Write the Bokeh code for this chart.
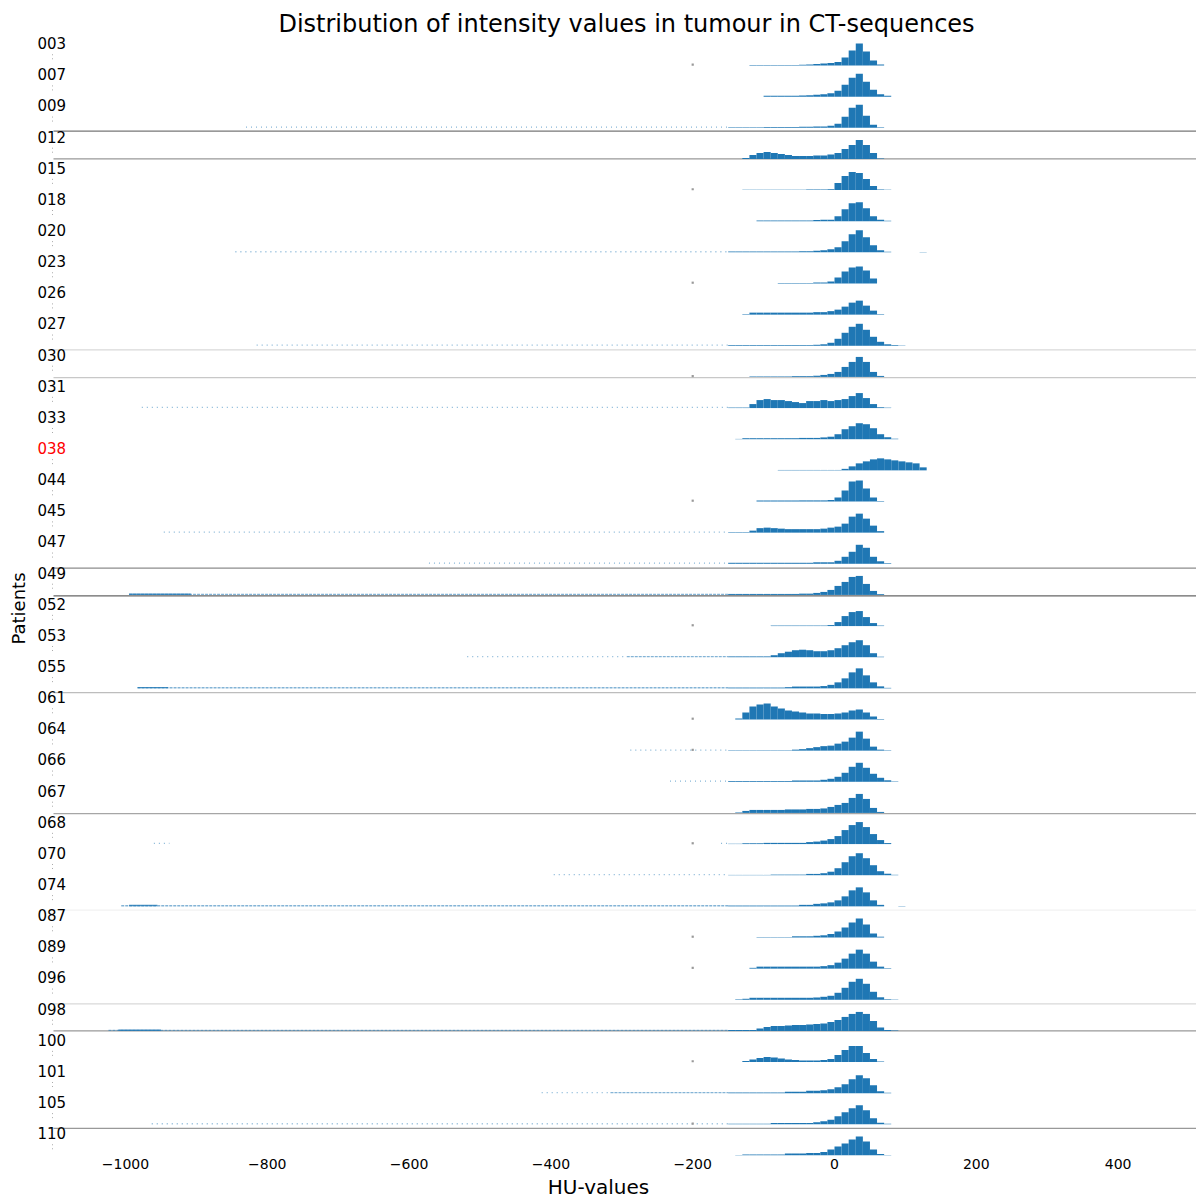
from bokeh.plotting import figure
from bokeh.models import Range1d, FixedTicker, ColumnDataSource
from bokeh.core.properties import value
from bokeh.embed import file_html
from bokeh.resources import INLINE

# ---------------- data ----------------
patients = ["003", "007", "009", "012", "015", "018", "020", "023", "026", "027",
            "030", "031", "033", "038", "044", "045", "047", "049", "052", "053",
            "055", "061", "064", "066", "067", "068", "070", "074", "087", "089",
            "096", "098", "100", "101", "105", "110"]
highlight = ["038"]

# histogram bins: 10 HU wide, left edges -150 ... 120
bin_left = list(range(-150, 130, 10))
bin_width = 10

# bar heights per patient (in reference pixels)
heights = {
    "003": [0,0,0,0.4,0.4,0.4,0.4,0.4,0.4,0.5,0.7,1,1.5,2,2.5,3.5,8,15,22,14,5,1,0,0,0,0,0,0],
    "007": [0,0,0,0,0,0.8,1,1,1,1,1.2,1.5,2,2.5,3.5,6,12,19,23,15,7,2.5,0.8,0,0,0,0,0],
    "009": [0.6,0.6,0.6,0.6,0.6,0.8,0.8,0.8,0.8,0.8,1,1,1.3,1.3,2,4,11,20,23,12,3,0.5,0,0,0,0,0,0],
    "012": [0,0,1,4,6,7,6,5,4,3,3,3,3.5,3.5,4.5,6,10,14,19,14,6,0.5,0,0,0,0,0,0],
    "015": [0,0,0.4,0.4,0.4,0.4,0.4,0.4,0.4,0.4,0.4,0.5,0.5,0.6,0.8,7,14,18,17,11,4,0.5,0.4,0,0,0,0,0],
    "018": [0,0,0,0,0.6,0.6,0.6,0.6,0.6,0.6,0.8,0.8,1.2,1.5,1.5,5,12,18,19,13,5,1.5,0.5,0,0,0,0,0],
    "020": [0.8,0.8,0.8,0.8,0.8,0.8,0.8,0.8,0.8,0.8,1,1,1.5,2,3,5,11,18,22,15,7,2,0.5,0,0,0,0,0.4],
    "023": [0,0,0,0,0,0,0,0.5,0.5,0.5,0.5,0.5,1,1,2,6,12,16,17,13,5,0,0,0,0,0,0,0],
    "026": [0,0,0.5,2,2,2,2,2,2,2,2,2,2.5,2.5,3.5,5,8,12,14,9,4,0.5,0,0,0,0,0,0],
    "027": [0.7,0.7,0.7,0.7,0.7,0.7,0.7,0.7,0.7,0.7,0.7,0.7,1,1.5,3,7,13,19,22,16,9,4,1.5,0.7,0.3,0,0,0],
    "030": [0,0,0,0.5,0.5,0.5,0.5,0.5,0.5,0.8,0.8,0.8,1.2,2,3,5,10,15,20,15,5,1,0,0,0,0,0,0],
    "031": [0.5,0.5,0.5,4,8,9,8,8,7,6,5,7,7,8,7,8,9,12,15,10,4,0.8,0.4,0,0,0,0,0],
    "033": [0,0.3,1,1,1,1,1,1,1,1,1.3,1.3,1.3,1.8,2.5,5,10,13,16,15,11,5,2,0.5,0,0,0,0],
    "038": [0,0,0,0,0,0,0,0.4,0.4,0.4,0.4,0.4,0.4,0.4,0.4,0.4,1.5,4,7,9,11,12,11,10,9,8,7,3],
    "044": [0,0,0,0,1,1,1,1,1,1,1.1,1.1,1.1,1.1,1.5,4,11,20,21,13,4,0.5,0,0,0,0,0,0],
    "045": [0.5,0.5,0.5,2,4.5,5,4.5,4,3.5,3.5,3.5,3.5,3.5,4,5,6,9,16,19,14,7,1.5,0,0,0,0,0,0],
    "047": [1,1,1,1,1,1,1,1,1,1,1,1,1.5,1.5,1.5,3,7,12,19,16,7,2.5,0.6,0,0,0,0,0],
    "049": [1,1,1,1,1,1,1,1,1,1,1.3,1.3,2,3,5,9,13,18,19,11,4,0.8,0,0,0,0,0,0],
    "052": [0,0,0,0,0,0,0.5,0.5,0.5,0.5,0.5,0.5,0.5,0.5,1,4,10,14,15,9,3,0.5,0,0,0,0,0,0],
    "053": [0.8,0.8,0.8,0.8,0.8,0.8,2,4,5.5,7,7.5,7,6,6,7,9,12,15,17,12,4,0.5,0,0,0,0,0,0],
    "055": [0.8,0.8,0.8,0.8,0.8,0.8,0.8,0.8,1.2,1.8,1.8,1.8,1.8,2.3,3.5,6,10,16,20,13,6,2,0.5,0,0,0,0,0],
    "061": [0,1,7,13,15,16,13,11,9,8,7,6,6,5.5,5.5,6,7,9,10,7,3,0.5,0,0,0,0,0,0],
    "064": [0.4,0.4,0.4,0.4,0.4,0.4,0.4,0.4,0.4,1,1.5,2.5,3.5,4.5,5,7,9,13,19,12,4,1,0.4,0,0,0,0,0],
    "066": [0.8,0.8,0.8,0.8,0.8,0.8,0.8,0.8,0.8,1.3,1.3,1.3,1.3,2,3,5,9,15,19,14,8,4,1.5,0.4,0,0,0,0],
    "067": [0,0.5,2,3,3,3,3,3,3.5,3.5,3.5,4,4,4.5,6,8,10,15,19,14,5,1,0,0,0,0,0,0],
    "068": [0.3,0.3,0.8,0.8,0.8,1.2,1.2,1.2,1.2,1.2,1.2,2,2.5,3.5,5,8,14,19,22,17,10,4,1,0,0,0,0,0],
    "070": [0.3,0.3,0.3,0.3,0.3,0.3,0.6,0.6,0.6,0.6,0.6,1.3,1.3,2,3.5,7,13,19,22,17,10,4,1.5,0.4,0,0,0,0],
    "074": [0.8,0.8,0.8,0.8,0.8,0.8,0.8,0.8,0.8,0.8,1.5,1.5,2.5,3,4,6,10,16,19,14,6,1.5,0,0,0.3,0,0,0],
    "087": [0,0,0,0,0.4,0.4,0.4,0.4,0.4,1.2,1.2,1.2,1.7,2.2,3.5,6,10,15,19,13,4,0.8,0,0,0,0,0,0],
    "089": [0,0,0,0.8,2,2,2,2,2,2,2,2,2,2.5,3.5,6,10,15,19,15,7,2,0.5,0,0,0,0,0],
    "096": [0,0.5,1,2,2,2,2,2,2,2,2,2,2.3,3,4,7,12,18,21,16,8,2.5,0.6,0.3,0,0,0,0],
    "098": [1,1,1,1,2.5,4,5,5,5.5,6,6,6.5,7,7.5,9,11,14,17,19,17,10,3.5,1,0.4,0,0,0,0],
    "100": [0,0,1,2.5,4,5,4.5,3.5,2.5,2,1.5,1.5,1.5,2,3,7,12,16,16,9,3,0.5,0,0,0,0,0,0],
    "101": [0.8,0.8,0.8,0.8,0.8,0.8,0.8,0.8,1.5,1.5,1.5,2.5,2.5,3,4,6,9,14,18,15,8,2,0.5,0,0,0,0,0],
    "105": [0.6,0.6,0.6,0.6,0.6,0.6,1.3,1.3,1.3,1.3,1.3,1.3,2,3,4.5,8,12,16,19,14,6,1.5,0.5,0,0,0,0,0],
    "110": [0,0.4,1,1,1,1,1,1,2,2,2,2.5,2.5,3.5,6,9,12,16,19,14,6,1.5,0.4,0,0,0,0,0],
}

# far low-density tails (HU from, HU to, kind)
tail_patient = ["009", "020", "027", "031", "045", "047", "049", "053", "053", "055",
                "064", "066", "068", "068", "070", "074", "098", "101", "101", "105"]
tail_from = [-830, -845, -815, -977, -946, -572, -995, -518, -293, -983,
             -288, -232, -960, -160, -396, -1006, -1024, -413, -316, -963]
tail_to = [-150, -150, -150, -150, -150, -150, -150, -293, -150, -150,
           -150, -150, -938, -150, -150, -150, -150, -316, -150, -150]
tail_kind = ["sparse", "sparse", "sparse", "sparse", "sparse", "sparse", "dense", "sparse", "dense", "dense",
             "sparse", "sparse", "sparse", "sparse", "sparse", "dense", "dense", "sparse", "dense", "sparse"]

# small clusters near -1000 HU
cluster_patient = ["049", "055", "074", "098"]
cluster_from = [-995, -983, -995, -1010]
cluster_to = [-908, -940, -955, -950]
cluster_height = [1.5, 1.3, 1.5, 1.5]

# isolated values at -200 HU (grey points)
dot200_patient = ["003", "015", "023", "030", "044", "052", "061", "064", "068", "087", "089", "100", "105"]
dot200_hu = -200

# separator lines (row coordinate) and their grey shade
sep_level = [32.89, 32.0, 25.87, 24.98, 18.86, 17.97, 14.86, 10.98, 7.88, 4.87, 4.0, 0.87]
sep_color = ["#777777", "#999999", "#d9d9d9", "#c8c8c8", "#8c8c8c", "#666666",
             "#bdbdbd", "#a6a6a6", "#f2f2f2", "#d9d9d9", "#999999", "#999999"]

x_ticks = [-1000, -800, -600, -400, -200, 0, 200, 400]

# ---------------- layout constants ----------------
FRAME_W = 1196
FRAME_H = 1155
ROW_PX = (FRAME_H - 65) / 35.0      # pixels per row
PX_ZERO = 834                       # pixel of 0 HU
PX_PER_HU = 0.709
X0 = (0 - PX_ZERO) / PX_PER_HU
X1 = (FRAME_W - PX_ZERO) / PX_PER_HU
Y_TOP = FRAME_H / ROW_PX
n = len(patients)
BLUE = "#1f77b4"
FONT = "DejaVu Sans"

def base(pid):
    return (n - 1) - patients.index(pid)

def hx(px):
    return (px - PX_ZERO) / PX_PER_HU

def vy(py):
    return (FRAME_H - py) / ROW_PX

p = figure(frame_width=FRAME_W, frame_height=FRAME_H,
           x_range=Range1d(X0, X1), y_range=Range1d(0, Y_TOP),
           output_backend="svg", toolbar_location=None, y_axis_location=None,
           min_border=0, min_border_left=0, min_border_right=0, min_border_top=0)
p.grid.visible = False
p.outline_line_color = None
p.background_fill_color = "white"
p.border_fill_color = "white"

# separator lines
for lvl, col in zip(sep_level, sep_color):
    p.segment(x0=[hx(53)], y0=[lvl], x1=[X1], y1=[lvl], line_color=col, line_width=1.3)

# histogram bars
L, R, B, T = [], [], [], []
for pid in patients:
    b = base(pid)
    for left, h in zip(bin_left, heights[pid]):
        if h > 0:
            L.append(left); R.append(left + bin_width)
            B.append(b); T.append(b + h / ROW_PX)
p.quad(left="l", right="r", bottom="b", top="t",
       source=ColumnDataSource(dict(l=L, r=R, b=B, t=T)),
       fill_color=BLUE, line_color=None)

# far tails
for pid, a, z, kind in zip(tail_patient, tail_from, tail_to, tail_kind):
    yb = base(pid) + 0.6 / ROW_PX
    if kind == "sparse":
        p.segment(x0=[a], y0=[yb], x1=[z], y1=[yb], line_color=BLUE, line_alpha=0.55,
                  line_width=1.3, line_dash="1 4")
    else:
        p.segment(x0=[a], y0=[yb], x1=[z], y1=[yb], line_color=BLUE, line_alpha=0.55,
                  line_width=1.4, line_dash="3 1")

# clusters
p.quad(left=cluster_from, right=cluster_to,
       bottom=[base(c) for c in cluster_patient],
       top=[base(c) + h / ROW_PX for c, h in zip(cluster_patient, cluster_height)],
       fill_color=BLUE, fill_alpha=0.8, line_color=None)

# grey points at -200
p.scatter(x=[dot200_hu] * len(dot200_patient),
          y=[base(d) + 0.8 / ROW_PX for d in dot200_patient],
          marker="square", size=2.2, fill_color="#999999", line_color=None)

# small dotted left marks per row
p.segment(x0=[hx(52)] * n, y0=[base(pid) + 0.2 for pid in patients],
          x1=[hx(52)] * n, y1=[base(pid) + 0.45 for pid in patients],
          line_color="#aaaaaa", line_width=1, line_dash="1 3")

# row labels
p.text(x=[hx(37)] * n, y=[base(pid) + 0.72 for pid in patients], text=patients,
       text_color=["#ff0000" if pid in highlight else "#000000" for pid in patients],
       text_font=value(FONT), text_font_size="15px",
       text_align="left", text_baseline="middle")

# title
p.text(x=[hx(626)], y=[vy(23)],
       text=["Distribution of intensity values in tumour in CT-sequences"],
       text_font=value(FONT), text_font_size="24px", text_color="#000000",
       text_align="center", text_baseline="middle")

# y-axis label
p.text(x=[hx(18)], y=[vy(608)], text=["Patients"],
       angle=1.5708, text_font=value(FONT), text_font_size="18px", text_color="#000000",
       text_align="center", text_baseline="middle")

# x axis
ax = p.xaxis[0]
ax.ticker = FixedTicker(ticks=x_ticks)
ax.major_label_overrides = {t: str(t).replace("-", "\u2212") for t in x_ticks}
ax.axis_line_color = None
ax.major_tick_line_color = None
ax.minor_tick_line_color = None
ax.major_tick_out = 0
ax.major_tick_in = 0
ax.major_label_standoff = 3
ax.major_label_text_font = FONT
ax.major_label_text_font_size = "14px"
ax.major_label_text_color = "#000000"
ax.axis_label = "HU-values"
ax.axis_label_standoff = 3
ax.axis_label_text_font = FONT
ax.axis_label_text_font_size = "20px"
ax.axis_label_text_font_style = "normal"
ax.axis_label_text_color = "#000000"

open("out.html", "w").write(file_html(p, INLINE))
